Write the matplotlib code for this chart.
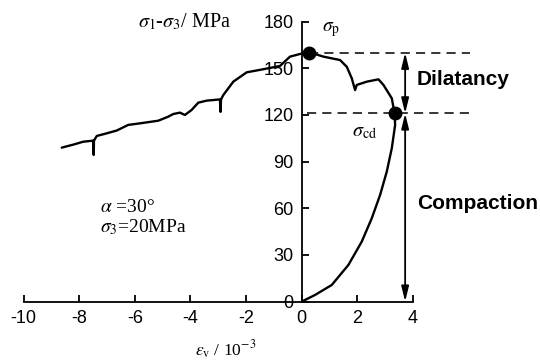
import matplotlib
matplotlib.use("Agg")
import matplotlib.pyplot as plt

plt.rcParams['font.family'] = ['Liberation Sans', 'DejaVu Sans']
plt.rcParams['mathtext.fontset'] = 'stix'

# volumetric strain (10^-3) and deviatoric stress (MPa)
ev = [-8.63, -8.2, -7.86, -7.5, -7.48, -7.47, -7.37, -7.01, -6.65, -6.24, -5.82,
      -5.16, -4.8, -4.62, -4.38, -4.2, -3.96, -3.72, -3.42, -2.94, -2.92, -2.90,
      -2.82, -2.46, -1.98, -1.38, -0.78, -0.42, -0.06, 0.27, 0.78, 1.38, 1.62,
      1.8, 1.92, 1.98, 2.34, 2.76, 2.94, 3.24, 3.34, 3.36, 3.24, 3.06, 2.82,
      2.52, 2.16, 1.68, 1.08, 0.48, 0.0]
sd = [99, 101, 102.8, 103.5, 94.3, 103.5, 106.5, 108.2, 110, 113.6, 114.6,
      116.3, 118.9, 120.6, 121.5, 120, 123.2, 127.9, 129.2, 130, 122, 130,
      132.8, 141.4, 147.4, 149.4, 151.5, 157.5, 159.2, 160.3, 157.5, 155.3, 151,
      143.6, 136, 139.3, 141.4, 142.9, 139.3, 130.7, 121, 113.6, 98.6, 83.6, 68.6,
      53.6, 38.6, 23.6, 10.7, 4.3, 0]

peak = (0.27, 160)     # sigma_p
cdp = (3.34, 121)      # sigma_cd
arrow_x = 3.72
dash_end = 6.05

xticks = [-10, -8, -6, -4, -2, 0, 2, 4]
yticks = [0, 30, 60, 90, 120, 150, 180]

fig = plt.figure(figsize=(5.4, 3.62), dpi=100)
ax = fig.add_axes([0, 0, 1, 1])
ax.set_xlim(-10.85, 8.57)
ax.set_ylim(-38.8, 193.9)

for sp in ['top', 'right']:
    ax.spines[sp].set_visible(False)
ax.spines['left'].set_position(('data', 0))
ax.spines['bottom'].set_position(('data', 0))
ax.spines['left'].set_bounds(0, 180)
ax.spines['bottom'].set_bounds(-10, 4)
ax.spines['left'].set_linewidth(1.3)
ax.spines['bottom'].set_linewidth(1.3)
ax.set_xticks(xticks)
ax.set_yticks(yticks)
ax.set_xticklabels([str(v) for v in xticks])
ax.tick_params(direction='in', length=5, width=1.3, labelsize=13, pad=6)
ax.patch.set_visible(False)

ax.plot(ev, sd, color='black', lw=1.7, solid_capstyle='round', solid_joinstyle='round')
ax.plot([peak[0], dash_end], [peak[1], peak[1]], color='black', lw=1.1, dashes=(6, 4))
ax.plot([0.2, dash_end], [cdp[1], cdp[1]], color='black', lw=1.1, dashes=(6, 4))
ax.plot(*peak, 'o', color='black', ms=9)
ax.plot(*cdp, 'o', color='black', ms=9)

aprops = dict(arrowstyle='<|-|>,head_length=0.9,head_width=0.22', color='black', lw=1.3,
              shrinkA=0, shrinkB=0)
ax.annotate('', xy=(arrow_x, peak[1]), xytext=(arrow_x, cdp[1]), arrowprops=aprops)
ax.annotate('', xy=(arrow_x, cdp[1]), xytext=(arrow_x, 0), arrowprops=aprops)

ax.text(4.15, 142.5, 'Dilatancy', fontsize=15, fontweight='bold', va='center')
ax.text(4.15, 63.3, 'Compaction', fontsize=15, fontweight='bold', va='center')

serif = ['Liberation Serif', 'DejaVu Serif']
ax.text(-4.2, 179.8, r'$\sigma_1$-$\sigma_3$/ MPa', fontsize=14.5, ha='center',
        va='center', family=serif)
ax.text(-7.25, 60.2, r'$\alpha$ =30°', fontsize=14, va='center', family=serif)
ax.text(-7.25, 48, r'$\sigma_3$=20MPa', fontsize=14, va='center', family=serif)
ax.text(-2.72, -31, r'$\varepsilon_{\rm v}$ / 10$^{-3}$', fontsize=12.5, ha='center',
        va='center', family=serif)
ax.text(0.74, 174.6, r'$\sigma_{\rm p}$', fontsize=14, va='center', family=serif)
ax.text(1.8, 109, r'$\sigma_{\rm cd}$', fontsize=14.5, va='center', family=serif)

fig.savefig('out.png', dpi=100)
